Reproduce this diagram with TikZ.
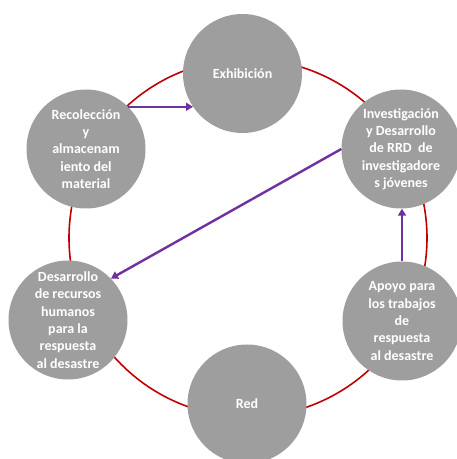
\documentclass[tikz,border=0pt]{standalone}
\usepackage{fontspec}
\setmainfont{Carlito}
\usepackage{tikz}
\usetikzlibrary{arrows.meta,positioning,calc}

\definecolor{anillo}{HTML}{C00000}
\definecolor{flecha}{HTML}{7030A0}
\definecolor{gris}{HTML}{9E9E9E}

\begin{document}
\begin{tikzpicture}[x=1pt, y=1pt, >={Triangle[length=7pt,width=8pt]}]
	\tikzstyle{etapa}=[circle,fill=gris,draw=none,text=white,inner sep=0pt,minimum size=119pt,align=center,font=\fontsize{14}{17.3}\selectfont\bfseries]
	\tikzstyle{anillo}=[draw=anillo,line width=1.6pt]
	\tikzstyle{flujo}=[->,draw=flecha,line width=2.4pt]
	\useasboundingbox (0,0) rectangle (457,459);
	\coordinate (centro) at (248,221);
	\draw[anillo] (centro) circle (179);

	\node[etapa] (Exh) at (242.5,385.5) {Exhibición};
	\node[etapa] (Rec) at (86,310) {Recolección\\y\\almacenam\\iento del\\material};
	\node[etapa] (Inv) at (401,310) {Investigación\\y Desarrollo\\de RRD\ \ de\\investigadore\\s jóvenes};
	\node[etapa] (Des) at (68,139) {Desarrollo\\de recursos\\humanos\\para la\\respuesta\\al desastre};
	\node[etapa] (Apo) at (402,138) {Apoyo para\\los trabajos\\de\\respuesta\\al desastre};
	\node[etapa] (Red) at (247,55) {Red};

	\draw[flujo] (Rec.45) -- (Rec.45 -| Exh.214);
	\draw[flujo] (Inv.west) -- (Des.44);
	\draw[flujo] (Apo.north) -- (Apo.north |- Inv.south);
\end{tikzpicture}
\end{document}
